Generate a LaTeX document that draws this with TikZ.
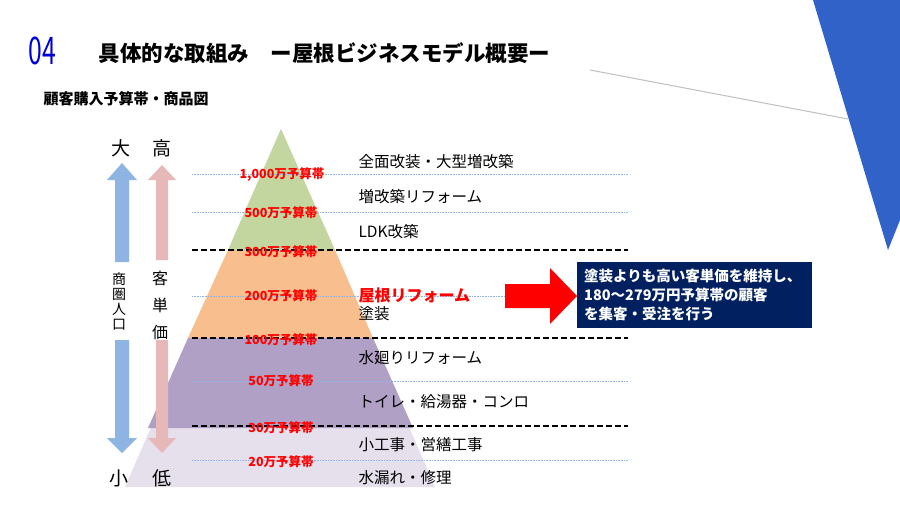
\documentclass[tikz,border=0pt]{standalone}
\usepackage{fontspec}
\setmainfont{Noto Sans CJK JP}
\usetikzlibrary{arrows.meta}
\begin{document}
\begin{tikzpicture}[x=1pt,y=-1pt,
  dotl/.style={draw={rgb,255:red,150;green,180;blue,225},densely dotted,line width=0.6pt},
  blk/.style={draw=black,line width=1.4pt,dash pattern=on 6pt off 3pt},
  budget/.style={text=red,font=\bfseries\fontsize{12.5}{13}\selectfont},
  item/.style={anchor=west,font=\fontsize{15.5}{17}\selectfont},
  big/.style={font=\fontsize{19}{21}\selectfont}]
\useasboundingbox (0,0) rectangle (900,506);
\fill[white] (0,0) rectangle (900,506);
\fill[color={rgb,255:red,48;green,98;blue,200}] (813,0) -- (900,0) -- (900,220) -- (888,250) -- cycle;
\draw[gray!50,line width=1pt] (590,70) -- (848,119);
% title
\node[anchor=west,text={rgb,255:red,0;green,0;blue,220},font=\fontsize{38}{40}\selectfont,xscale=0.65] (n04) at (26,51) {04};
\node[anchor=west,font=\bfseries\fontsize{21.5}{23}\selectfont] (title) at (95,53) {具体的な取組み　ー屋根ビジネスモデル概要ー};
\node[anchor=west,font=\bfseries\fontsize{15}{16}\selectfont] (sub) at (40,99) {顧客購入予算帯・商品図};
% pyramid
\fill[color={rgb,255:red,229;green,224;blue,236}] (281,129) -- (125,487) -- (435,487) -- cycle;
\fill[color={rgb,255:red,176;green,160;blue,198}] (188,338) -- (373,338) -- (413,428) -- (148,428) -- cycle;
\fill[color={rgb,255:red,248;green,190;blue,141}] (228,250) -- (335,250) -- (373,338) -- (188,338) -- cycle;
\fill[color={rgb,255:red,196;green,214;blue,160}] (281,129) -- (335,250) -- (228,250) -- cycle;
% lines
\foreach \y in {174,212,296,381,460} \draw[dotl] (192,\y) -- (628,\y);
\foreach \y in {250,338,426} \draw[blk] (192,\y) -- (628,\y);
% budgets
\node[budget] (b1) at (282,175) {1,000万予算帯};
\node[budget] (b2) at (281,213) {500万予算帯};
\node[budget] (b3) at (281,252) {300万予算帯};
\node[budget] (b4) at (281,296) {200万予算帯};
\node[budget] (b5) at (281,340) {100万予算帯};
\node[budget] (b6) at (281,381) {50万予算帯};
\node[budget] (b7) at (281,428) {30万予算帯};
\node[budget] (b8) at (281,462) {20万予算帯};
% items
\node[item] (i1) at (355,162) {全面改装・大型増改築};
\node[item] (i2) at (355,197) {増改築リフォーム};
\node[item] (i3) at (355,232) {LDK改築};
\node[anchor=west,text=red,font=\bfseries\fontsize{16}{18}\selectfont] (i4) at (355,295) {屋根リフォーム};
\node[item] (i5) at (355,314) {塗装};
\node[item] (i6) at (355,358) {水廻りリフォーム};
\node[item] (i7) at (355,402) {トイレ・給湯器・コンロ};
\node[item] (i8) at (355,445) {小工事・営繕工事};
\node[item] (i9) at (355,478) {水漏れ・修理};
% side arrows
\node[big] (dai) at (121,148) {大};
\node[big] (ko) at (162,148) {高};
\node[big] (sho) at (119,478) {小};
\node[big] (tei) at (162,478) {低};
\node[font=\fontsize{14}{15}\selectfont,align=center] (jinko) at (119,302) {商\\圏\\人\\口};
\node[font=\fontsize{16}{27}\selectfont,align=center] (tanka) at (160,305) {客\\単\\価};
\fill[color={rgb,255:red,142;green,180;blue,227}] (115,262) -- (115,180) -- (107,180) -- (122,163) -- (137,180) -- (129,180) -- (129,262) -- cycle;
\fill[color={rgb,255:red,142;green,180;blue,227}] (115,340) -- (115,438) -- (107,438) -- (122,453) -- (137,438) -- (129,438) -- (129,340) -- cycle;
\fill[color={rgb,255:red,230;green,184;blue,183}] (156,260) -- (156,180) -- (148,180) -- (162,165) -- (176,180) -- (168,180) -- (168,260) -- cycle;
\fill[color={rgb,255:red,230;green,184;blue,183}] (156,340) -- (156,438) -- (148,438) -- (162,453) -- (176,438) -- (168,438) -- (168,340) -- cycle;
% callout
\fill[red] (505,284) -- (550,284) -- (550,268) -- (577,296) -- (550,324) -- (550,308) -- (505,308) -- cycle;
\node[fill={rgb,255:red,0;green,32;blue,96},text=white,anchor=north west,minimum height=66pt,inner xsep=7pt,align=left,text width=221pt,font=\bfseries\fontsize{14.5}{19}\selectfont] (box) at (577,262) {塗装よりも高い客単価を維持し、\\180～279万円予算帯の顧客\\を集客・受注を行う};
\end{tikzpicture}
\end{document}
